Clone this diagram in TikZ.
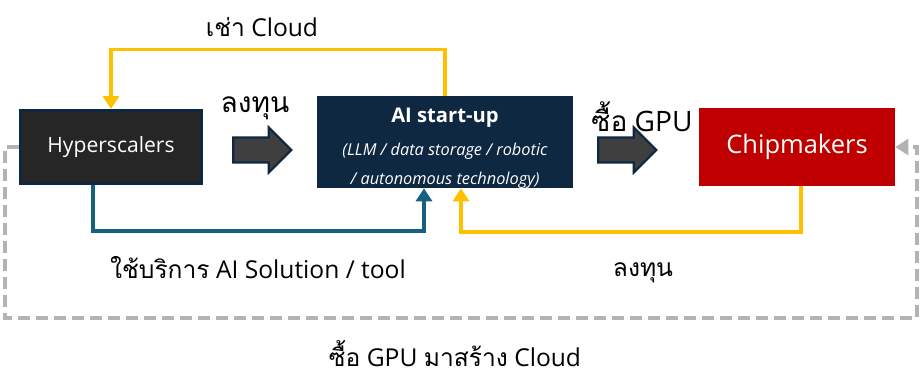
\documentclass[tikz,border=0pt]{standalone}
\usepackage{fontspec}
\setmainfont{Open Sans}
\newfontfamily\thaifont[Script=Thai]{Loma}
\usetikzlibrary{arrows.meta,shapes.arrows}
\definecolor{navy}{HTML}{0E2841}
\definecolor{coal}{HTML}{262626}
\definecolor{ashbox}{HTML}{3F3F3F}
\definecolor{chipred}{HTML}{C00000}
\definecolor{gold}{HTML}{FFC000}
\definecolor{teal}{HTML}{156082}
\definecolor{dashgray}{HTML}{B3B3B3}

\begin{document}
\begin{tikzpicture}[x=0.02cm, y=-0.02cm, >={Triangle[length=2.6mm, width=3.2mm]}, box/.style={inner sep=0pt, text=white, align=center}, bigarrow/.style={single arrow, draw=navy, fill=ashbox, line width=1.2pt, minimum height=1.16cm, single arrow head extend=0.2cm, inner xsep=0pt, inner ysep=0.23cm}, lbl/.style={font=\fontsize{14}{16}\selectfont, inner sep=1pt}, biglbl/.style={font=\fontsize{16}{18}\selectfont, inner sep=1pt}, flow/.style={->, line width=1.9pt}]
	\useasboundingbox (0,0) rectangle (920,375);
	\node[box, fill=coal, draw=navy, line width=1.7pt, minimum width=3.62cm, minimum height=1.46cm, font=\fontsize{12}{14}\selectfont] (hyp) at (111,147) {Hyperscalers};
	\node[box, fill=navy, minimum width=5.12cm, minimum height=1.84cm] (ai) at (445,142) {};
	\node[box, font=\bfseries\fontsize{11.5}{14}\selectfont] (aititle) at (445,118) {AI start-up};
	\node[box, font=\itshape\fontsize{9.3}{16.5}\selectfont] (aidesc) at (445,166) {(LLM / data storage / robotic\\/ autonomous technology)};
	\node[box, fill=chipred, minimum width=3.92cm, minimum height=1.56cm, font=\fontsize{14.5}{16}\selectfont] (chip) at (797,147) {Chipmakers};
	\node[bigarrow] (a1) at (256,150) {};
	\node[bigarrow] (a2) at (621,150) {};
	\node[biglbl] (invest1) at (255,108) {\thaifont ลงทุน};
	\node[biglbl] (buygpu) at (642,117) {{\thaifont ซื้อ} GPU};
	\node[lbl] (rent) at (262,27) {{\thaifont เช่า} Cloud};
	\node[lbl] (use) at (258,268) {{\thaifont ใช้บริการ} AI Solution / tool};
	\node[lbl] (invest2) at (643,273) {\thaifont ลงทุน};
	\node[lbl] (build) at (455,354) {{\thaifont ซื้อ} GPU {\thaifont มาสร้าง} Cloud};
	% money and services between the three players
	\draw[flow, gold] (ai.north) -- ++(0,-46) -| (hyp.north);
	\draw[flow, teal] (hyp.south -| 93,0) -- (93,231) -| (ai.south -| 424,0);
	\draw[flow, gold] (chip.south -| 801,0) -- (801,232) -| (ai.south -| 461,0);
	\draw[flow, dashgray, dash pattern=on 2.4mm off 1.2mm] (hyp.west) -- (5,147) -- (5,318) -- (917,318) |- (chip.east);
\end{tikzpicture}
\end{document}
